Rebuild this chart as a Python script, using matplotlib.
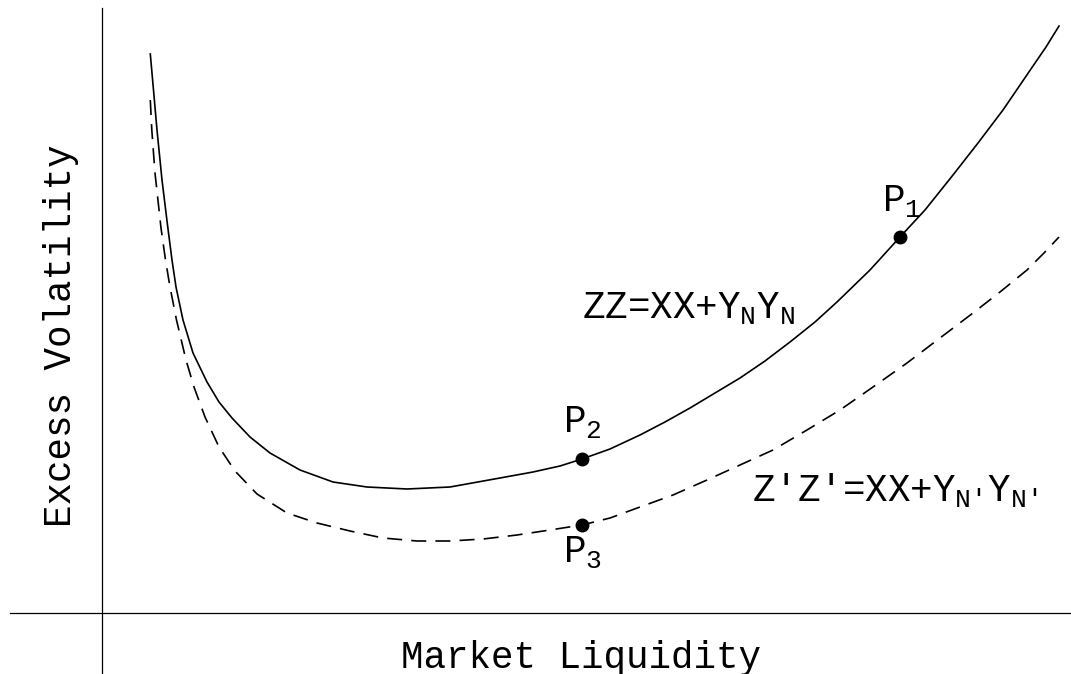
#!/usr/bin/env python3

import matplotlib
matplotlib.use("Agg")
import matplotlib.pyplot as plt

# curve samples (liquidity, volatility)
zz_x = [0.478, 0.510, 0.545, 0.595, 0.650, 0.695, 0.735, 0.805, 0.905, 1.045, 1.165,
        1.295, 1.475, 1.675, 1.975, 2.305, 2.645, 3.045, 3.475, 3.975, 4.305, 4.575,
        4.795, 5.075, 5.375, 5.625, 5.875, 6.125, 6.375, 6.625, 6.875, 7.125, 7.345,
        7.675, 7.975, 8.225, 8.505, 8.755, 9.005, 9.305, 9.435, 9.565]
zz_y = [5.585, 5.225, 4.825, 4.325, 3.875, 3.525, 3.255, 2.925, 2.595, 2.305, 2.105,
        1.945, 1.755, 1.595, 1.425, 1.305, 1.255, 1.235, 1.255, 1.345, 1.405, 1.465,
        1.535, 1.635, 1.775, 1.905, 2.045, 2.195, 2.345, 2.515, 2.705, 2.905, 3.105,
        3.425, 3.755, 4.025, 4.375, 4.695, 5.025, 5.465, 5.655, 5.865]

zz2_x = [0.478, 0.493, 0.525, 0.585, 0.630, 0.675, 0.740, 0.835, 0.915, 1.025, 1.165,
         1.325, 1.545, 1.845, 2.145, 2.475, 2.805, 3.145, 3.475, 3.805, 4.145, 4.475,
         4.795, 5.075, 5.375, 5.705, 6.045, 6.375, 6.705, 7.045, 7.375, 7.705, 8.045,
         8.375, 8.705, 8.975, 9.245, 9.415, 9.565]
zz2_y = [5.125, 4.825, 4.395, 3.845, 3.525, 3.255, 2.925, 2.525, 2.255, 1.955, 1.655,
         1.415, 1.185, 0.995, 0.895, 0.815, 0.745, 0.715, 0.715, 0.735, 0.775, 0.825,
         0.875, 0.945, 1.055, 1.175, 1.325, 1.475, 1.625, 1.825, 2.025, 2.255, 2.495,
         2.745, 2.995, 3.205, 3.425, 3.595, 3.755]

point_names = ["P$_1$", "P$_2$", "P$_3$"]
point_x = [7.975, 4.795, 4.795]
point_y = [3.755, 1.535, 0.875]

curve_labels = ["ZZ=XX+Y$_{\\mathrm{N}}$Y$_{\\mathrm{N}}$",
                "Z'Z'=XX+Y$_{\\text{N'}}$Y$_{\\text{N'}}$"]


def main() -> None:
    plt.rcParams.update(
        {
            "font.family": ["Liberation Mono", "DejaVu Sans"],
            "mathtext.fontset": "custom",
            "mathtext.rm": "Liberation Mono",
            "mathtext.it": "Liberation Mono",
            "mathtext.bf": "Liberation Mono",
            "figure.facecolor": "white",
        }
    )

    fig = plt.figure(figsize=(10.71, 6.74), dpi=100)
    ax = fig.add_axes([10 / 1071, 0, 1061 / 1071, 666 / 674])
    ax.set_xlim(-0.925, 9.685)
    ax.set_ylim(-0.615, 6.045)

    for side in ["top", "right"]:
        ax.spines[side].set_visible(False)
    ax.spines["left"].set_position(("data", 0))
    ax.spines["bottom"].set_position(("data", 0))
    ax.spines["left"].set_linewidth(0.9)
    ax.spines["bottom"].set_linewidth(0.9)
    ax.set_xticks([])
    ax.set_yticks([])
    ax.patch.set_alpha(0)

    ax.plot(zz_x, zz_y, color="black", linewidth=1.2, solid_joinstyle="round")
    ax.plot(zz2_x, zz2_y, color="black", linewidth=1.2, linestyle=(0, (9, 5.5)))
    ax.plot(point_x, point_y, "o", color="black", markersize=9, zorder=3)

    fs = 27
    ax.text(7.795, 4.005, point_names[0], fontsize=fs, ha="left", va="baseline")
    ax.text(4.605, 1.795, point_names[1], fontsize=fs, ha="left", va="baseline")
    ax.text(4.605, 0.495, point_names[2], fontsize=fs, ha="left", va="baseline")

    ax.text(4.795, 2.935, curve_labels[0], fontsize=fs, ha="left", va="baseline")
    ax.text(6.495, 1.105, curve_labels[1], fontsize=fs, ha="left", va="baseline")

    ax.text(4.785, -0.555, "Market Liquidity", fontsize=fs, ha="center", va="baseline")
    ax.text(-0.41, 2.77, "Excess Volatility", fontsize=fs, ha="center", va="center",
            rotation=90)

    fig.savefig("out.png", dpi=100, facecolor="white")


if __name__ == "__main__":
    main()
